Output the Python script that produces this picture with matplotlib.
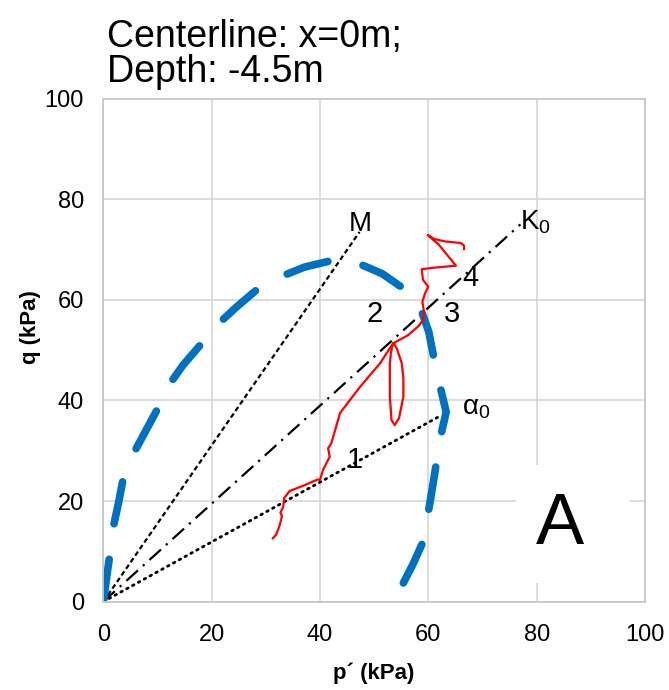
import numpy as np
import matplotlib.pyplot as plt
from matplotlib.patches import Rectangle

plt.rcParams['font.family'] = ['Liberation Sans', 'DejaVu Sans']
plt.rcParams['mathtext.default'] = 'regular'

# yield surface (blue dashed)
ys_p = [0, 0.6, 1.2, 1.8, 2.8, 3.7, 5.5, 7.7, 9.8, 12.0, 14.7, 17.8, 20.9, 24.5, 28.2,
        32.5, 37.1, 41.7, 44.6, 47.2, 51.5, 55.5, 58.6, 60.1, 61.0, 62.0, 63.3, 62.0, 61.3,
        60.6, 59.8, 58.9, 57.1, 54.9]
ys_q = [0, 4.7, 9.3, 14.6, 19.6, 24.6, 29.3, 33.7, 37.9, 42.9, 47.0, 50.9, 54.9, 58.5, 61.9,
        64.5, 66.5, 67.7, 67.9, 67.2, 65.2, 62.2, 58.2, 53.6, 48.6, 43.6, 37.7, 31.6, 26.3,
        21.6, 16.6, 11.6, 7.3, 2.7]

# measured stress path (red)
sp_p = [31.3, 31.9, 32.5, 33.0, 32.7, 33.2, 33.4, 34.4, 36.8, 39.6, 40.0, 40.6, 41.8, 41.5,
        42.1, 43.7, 47.4, 51.1, 53.5,
        53.1, 52.9, 52.9, 53.2, 53.8, 54.6, 55.4, 55.4, 55.1, 54.2, 53.6,
        56.3, 58.3, 59.0, 59.2, 58.9, 59.4, 60.0, 59.0, 58.8, 61.1, 65.1, 63.5,
        62.0, 60.2, 59.9, 61.1, 63.2, 66.0, 66.6, 66.6]
sp_q = [12.6, 13.3, 15.0, 17.0, 17.7, 18.8, 20.6, 22.0, 23.0, 24.3, 24.2, 26.3, 28.8, 30.5,
        31.5, 37.5, 42.7, 47.4, 51.4,
        49.5, 47.4, 41.0, 36.1, 35.1, 36.5, 40.8, 44.5, 47.4, 50.3, 51.4,
        53.0, 54.9, 56.0, 57.7, 59.6, 61.3, 62.6, 64.0, 66.1, 66.4, 66.8, 68.9,
        70.9, 72.6, 72.9, 72.1, 71.6, 71.3, 70.8, 70.1]

# reference lines from origin
m_p, m_q = [0, 47.3], [0, 73.5]
k0_p, k0_q = [0, 77.0], [0, 75.0]
a0_p, a0_q = [0, 61.8], [0, 36.7]

labels = ['1', '2', '3', '4']
lab_p = [46.4, 50.0, 64.3, 67.8]
lab_q = [28.2, 57.2, 57.2, 64.3]

fig = plt.figure(figsize=(6.69, 6.90), dpi=100)
ax = fig.add_axes([0.1544, 0.128, 0.8097, 0.729])

ax.plot(m_p, m_q, color='black', lw=1.6, dashes=(2.2, 1.4))
ax.plot(k0_p, k0_q, color='black', lw=1.6, dashes=(7, 3, 1, 3))
ax.plot(a0_p, a0_q, color='black', lw=2.0, dashes=(0.6, 1.8), dash_capstyle='round')

ax.plot(ys_p, ys_q, color='#0070C0', lw=5.5, dashes=(5.6, 4.7),
        dash_capstyle='round', solid_joinstyle='round')
ax.plot(sp_p, sp_q, color='#FF0000', lw=1.6, solid_joinstyle='round')

ax.add_patch(Rectangle((76.2, 3.7), 21.0, 23.5, facecolor='white', edgecolor='none', zorder=3))
ax.text(84.3, 15.2, 'A', fontsize=52, ha='center', va='center', zorder=4)

ax.text(47.4, 75.1, 'M', fontsize=20, ha='center', va='center')
ax.text(76.9, 75.5, 'K$_0$', fontsize=20, ha='left', va='center')
ax.text(66.2, 38.5, '\u03b1$_0$', fontsize=20, ha='left', va='center')
for t, p, q in zip(labels, lab_p, lab_q):
    ax.text(p, q, t, fontsize=21, ha='center', va='center')

ax.set_xlim(0, 100)
ax.set_ylim(0, 100)
ax.set_xticks(np.arange(0, 101, 20))
ax.set_yticks(np.arange(0, 101, 20))
ax.grid(True, color='#D9D9D9', lw=1.3)
ax.set_axisbelow(True)
for s in ax.spines.values():
    s.set_color('#C8C8C8')
    s.set_linewidth(1.3)
ax.tick_params(length=0, labelsize=17)
ax.tick_params(axis='x', pad=16)
ax.tick_params(axis='y', pad=14)

ax.set_xlabel('p\u00b4 (kPa)', fontsize=16, fontweight='bold', labelpad=12)
ax.set_ylabel('q (kPa)', fontsize=16, fontweight='bold')
ax.yaxis.set_label_coords(-0.115, 0.546)

fig.text(0.160, 0.947, 'Centerline: x=0m;', fontsize=27, ha='left', va='center')
fig.text(0.160, 0.895, 'Depth: -4.5m', fontsize=27, ha='left', va='center')

fig.savefig('out.png', dpi=100)
plt.close()
